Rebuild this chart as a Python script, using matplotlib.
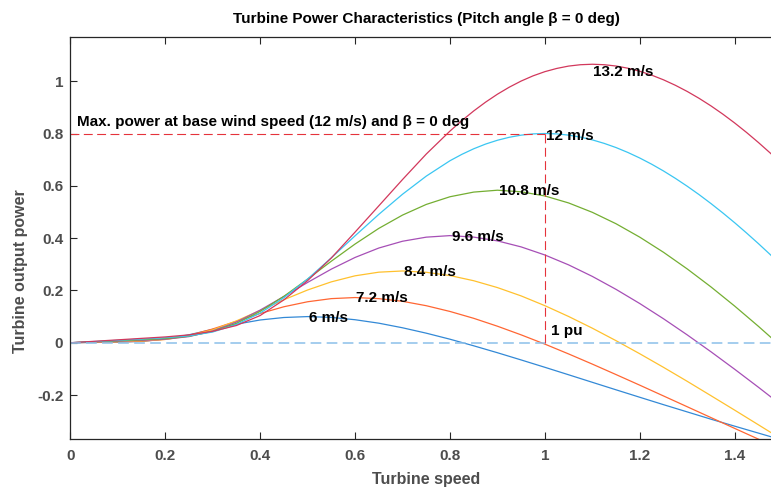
import matplotlib
matplotlib.use("Agg")
import matplotlib.pyplot as plt
from matplotlib.ticker import FuncFormatter

plt.rcParams["font.family"] = ["Liberation Sans", "DejaVu Sans"]
plt.rcParams["font.weight"] = "bold"

# turbine speed (pu)
speed = [0.00, 0.05, 0.10, 0.15, 0.20, 0.25, 0.30, 0.35, 0.40, 0.45,
         0.50, 0.55, 0.60, 0.65, 0.70, 0.75, 0.80, 0.85, 0.90, 0.95,
         1.00, 1.05, 1.10, 1.15, 1.20, 1.25, 1.30, 1.35, 1.40, 1.45, 1.50]
# finer speed grid for the two upper curves (their peaks are sharper)
speed_fine = [0.00, 0.05, 0.10, 0.15, 0.20, 0.25, 0.30, 0.35, 0.40, 0.45,
              0.50, 0.55, 0.60, 0.65, 0.70, 0.75,
              0.800, 0.825, 0.850, 0.875, 0.900, 0.925, 0.950, 0.975,
              1.000, 1.025, 1.050, 1.075, 1.100, 1.125, 1.150, 1.175,
              1.200, 1.225, 1.250, 1.275, 1.300, 1.325, 1.350, 1.375,
              1.400, 1.425, 1.450, 1.475, 1.500]

# turbine output power (pu) for each wind speed
p_6_0 = [0.0, 0.0011, 0.0024, 0.0051, 0.0142, 0.0304, 0.0511, 0.0710, 0.0870, 0.0965,
         0.1000, 0.0968, 0.0880, 0.0748, 0.0572, 0.0366, 0.0135, -0.0117, -0.0382, -0.0658,
         -0.0939, -0.1225, -0.1513, -0.1800, -0.2085, -0.2368, -0.2645, -0.2923, -0.3190, -0.3455, -0.3720]
p_7_2 = [0.0, 0.0017, 0.0033, 0.0057, 0.0128, 0.0283, 0.0526, 0.0822, 0.1118, 0.1376,
         0.1567, 0.1687, 0.1728, 0.1686, 0.1584, 0.1416, 0.1196, 0.0934, 0.0632, 0.0301,
         -0.0053, -0.0428, -0.0817, -0.1218, -0.1623, -0.2035, -0.2448, -0.2862, -0.3276, -0.3686, -0.4090]
p_8_4 = [0.0, 0.0022, 0.0045, 0.0072, 0.0126, 0.0254, 0.0492, 0.0835, 0.1237, 0.1644,
         0.2017, 0.2328, 0.2559, 0.2698, 0.2744, 0.2694, 0.2569, 0.2371, 0.2109, 0.1790,
         0.1417, 0.1004, 0.0556, 0.0078, -0.0422, -0.0941, -0.1476, -0.2025, -0.2578, -0.3138, -0.3700]
p_9_6 = [0.0, 0.0029, 0.0059, 0.0089, 0.0134, 0.0235, 0.0447, 0.0791, 0.1247, 0.1769,
         0.2306, 0.2815, 0.3261, 0.3621, 0.3881, 0.4037, 0.4096, 0.4039, 0.3895, 0.3664,
         0.3355, 0.2977, 0.2536, 0.2040, 0.1498, 0.0916, 0.0299, -0.0346, -0.1015, -0.1703, -0.2408]
p_10_8 = [0.0, 0.0037, 0.0074, 0.0113, 0.0160, 0.0250, 0.0431, 0.0742, 0.1198, 0.1775,
          0.2434, 0.3118, 0.3774, 0.4372, 0.4881, 0.5288, 0.5582, 0.5760, 0.5832, 0.5771,
          0.5612, 0.5345, 0.4986, 0.4549, 0.4036, 0.3458, 0.2821, 0.2134, 0.1400, 0.0627, -0.0179]
p_12_0 = [0.0, 0.0046, 0.0092, 0.0139, 0.0192, 0.0262, 0.0410, 0.0697, 0.1135, 0.1720,
          0.2435, 0.3248, 0.4088, 0.4908, 0.5678, 0.6370,
          0.6959, 0.7203, 0.7416, 0.7596, 0.7742, 0.7856, 0.7937, 0.7985,
          0.8000, 0.7985, 0.7938, 0.7862, 0.7756, 0.7622, 0.7462, 0.7274,
          0.7062, 0.6826, 0.6567, 0.6285, 0.5983, 0.5662, 0.5321, 0.4962,
          0.4587, 0.4195, 0.3789, 0.3368, 0.2934]
p_13_2 = [0.0, 0.0055, 0.0111, 0.0167, 0.0222, 0.0301, 0.0437, 0.0659, 0.1040, 0.1639,
          0.2376, 0.3241, 0.4230, 0.5233, 0.6240, 0.7214,
          0.8093, 0.8492, 0.8862, 0.9199, 0.9503, 0.9772, 1.0006, 1.0204,
          1.0365, 1.0488, 1.0578, 1.0630, 1.0648, 1.0630, 1.0580, 1.0496,
          1.0379, 1.0231, 1.0052, 0.9843, 0.9607, 0.9344, 0.9055, 0.8740,
          0.8401, 0.8039, 0.7655, 0.7251, 0.6826]

curves = [(speed, p_6_0), (speed, p_7_2), (speed, p_8_4), (speed, p_9_6),
          (speed, p_10_8), (speed_fine, p_12_0), (speed_fine, p_13_2)]
labels = ["6 m/s", "7.2 m/s", "8.4 m/s", "9.6 m/s", "10.8 m/s", "12 m/s", "13.2 m/s"]
# where each curve label sits (speed, power)
label_x = [0.502, 0.602, 0.703, 0.804, 0.904, 1.003, 1.101]
label_y = [0.096, 0.172, 0.270, 0.403, 0.580, 0.790, 1.036]

colors = ["#3389D6", "#FF6633", "#FFC12E", "#A64FB6", "#74AE32", "#3AC6F2", "#D2385C"]

base_speed = 1.0
base_power = 0.8

fig = plt.figure(figsize=(7.71, 4.90), dpi=100)
ax = fig.add_axes([0.0912, 0.1041, 0.9233, 0.8196])

for (x, p), c in zip(curves, colors):
    ax.plot(x, p, color=c, linewidth=0.9)

ax.plot([0, 1.5], [0, 0], color="#8CC0EA", linewidth=1.1, dashes=(7, 3.5))
ax.plot([0, base_speed], [base_power, base_power], color="#E5333B", linewidth=0.8, dashes=(8, 4))
ax.plot([base_speed, base_speed], [base_power, 0], color="#E5333B", linewidth=0.8, dashes=(8, 4))

for t, lx, ly in zip(labels, label_x, label_y):
    ax.text(lx, ly, t, fontsize=11, fontweight="bold", ha="left", va="center", color="black")

ax.text(1.013, 0.045, "1 pu", fontsize=11, fontweight="bold", ha="left", va="center")
ax.text(0.0135, 0.845, "Max. power at base wind speed (12 m/s) and \u03b2 = 0 deg",
        fontsize=11, fontweight="bold", ha="left", va="center")

ax.set_xlim(0, 1.5)
ax.set_ylim(-0.368, 1.1675)
ax.set_xticks([0, 0.2, 0.4, 0.6, 0.8, 1.0, 1.2, 1.4])
ax.set_yticks([-0.2, 0, 0.2, 0.4, 0.6, 0.8, 1.0])
fmt = FuncFormatter(lambda v, pos: "%g" % round(v, 2))
ax.xaxis.set_major_formatter(fmt)
ax.yaxis.set_major_formatter(fmt)

ax.tick_params(direction="in", length=5, width=0.8, colors="#262626",
               labelcolor="#4D4D4D", labelsize=11, top=True, right=True)
ax.tick_params(axis="y", pad=5)
ax.tick_params(axis="x", pad=7)
for s in ax.spines.values():
    s.set_color("#262626")
    s.set_linewidth(0.9)

ax.set_xlabel("Turbine speed", fontsize=11.5, fontweight="bold", color="#4D4D4D", labelpad=7)
ax.set_ylabel("Turbine output power", fontsize=11.5, fontweight="bold", color="#4D4D4D")
ax.yaxis.set_label_coords(-0.0594, 0.418)
ax.set_title("Turbine Power Characteristics (Pitch angle \u03b2 = 0 deg)",
             fontsize=11, fontweight="bold", color="black", pad=10)

fig.savefig("out.png", dpi=100)
